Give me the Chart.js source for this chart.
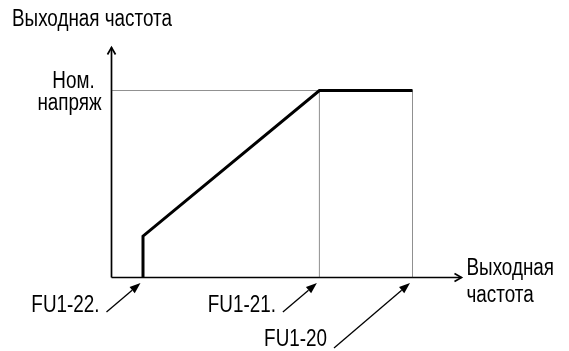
<!DOCTYPE html>
<html>
<head>
<meta charset="utf-8">
<script src="https://cdn.jsdelivr.net/npm/chart.js@4"></script>
<style>
  body { margin: 0; background: #fff; }
  canvas { display: block; }
</style>
</head>
<body>
<canvas id="vf-chart" width="569" height="351"></canvas>
<script>
// V/F pattern, both axes in abstract units 0..100
const freqPoints = [9, 9, 59.4, 86];     // start, start, base, max
const voltPoints = [0, 18, 81.3, 81.3];  // 0, boost, rated, rated
const markFreqs = [9, 59.4, 86];
const markLabels = ['FU1-22.', 'FU1-21.', 'FU1-20'];
const ratedVolt = 81.3;
const ratedLabel = ['Ном.', 'напряж'];
const yTitle = 'Выходная частота';
const xTitle = ['Выходная', 'частота'];

// no narrow font installed, so squeeze a regular one
const FONT = '23px "Liberation Sans", Arial, sans-serif';
const SQUEEZE = 0.82;

function text(c, s, x, y, align) {
    c.save();
    c.translate(x, y);
    c.scale(SQUEEZE, 1);
    c.textAlign = align;
    c.fillText(s, 0, 0);
    c.restore();
}

function arrow(c, x1, y1, x2, y2, filled) {
    const a = Math.atan2(y2 - y1, x2 - x1);
    const len = filled ? 11 : 7, w = 4;
    const bx = x2 - len * Math.cos(a), by = y2 - len * Math.sin(a);
    const px = -Math.sin(a) * w, py = Math.cos(a) * w;
    c.beginPath();
    c.moveTo(x1, y1);
    c.lineTo(filled ? bx : x2, filled ? by : y2);
    c.stroke();
    c.beginPath();
    c.moveTo(bx + px, by + py);
    c.lineTo(x2, y2);
    c.lineTo(bx - px, by - py);
    if (filled) { c.closePath(); c.fill(); } else { c.stroke(); }
}

const axesPlugin = {
    id: 'vfAxes',
    beforeDatasetsDraw(chart) {
        const c = chart.ctx, xs = chart.scales.x, ys = chart.scales.y;
        const x0 = xs.getPixelForValue(0), y0 = ys.getPixelForValue(0);
        c.save();
        c.strokeStyle = '#000';
        c.lineWidth = 1.7;
        arrow(c, x0, y0, xs.getPixelForValue(100), y0, false);
        arrow(c, x0, y0, x0, ys.getPixelForValue(100), false);
        c.restore();
    },
    afterDraw(chart) {
        const c = chart.ctx, xs = chart.scales.x, ys = chart.scales.y;
        const x0 = xs.getPixelForValue(0), y0 = ys.getPixelForValue(0);
        const xEnd = xs.getPixelForValue(100), yTop = ys.getPixelForValue(100);
        c.save();
        c.fillStyle = '#000';
        c.strokeStyle = '#000';
        c.lineWidth = 1.3;
        c.font = FONT;

        // axis titles
        text(c, yTitle, 12, yTop - 21.5, 'left');
        text(c, xTitle[0], xEnd + 5, y0 - 3, 'left');
        text(c, xTitle[1], xEnd + 5, y0 + 24.5, 'left');

        // rated voltage label
        const yr = ys.getPixelForValue(ratedVolt);
        text(c, ratedLabel[0], x0 - 38, yr - 2.5, 'center');
        text(c, ratedLabel[1], x0 - 42, yr + 19.5, 'center');

        // parameter marks under the x axis, last one on a lower row
        markFreqs.forEach((f, i) => {
            const tx = xs.getPixelForValue(f) - 2.5, ty = y0 + 5.5;
            const low = i === markFreqs.length - 1;
            const sx = tx - (low ? 76 : 34), sy = y0 + (low ? 70.5 : 34.5);
            arrow(c, sx, sy, tx, ty, true);
            text(c, markLabels[i], sx - 7, low ? y0 + 68.5 : sy, 'right');
        });
        c.restore();
    }
};

const dotted = {
    borderColor: '#222', borderWidth: 1, borderDash: [1, 1],
    pointRadius: 0, showLine: true, order: 1
};

const ctx = document.getElementById('vf-chart').getContext('2d');
const chart = new Chart(ctx, {
    type: 'scatter',
    data: {
        datasets: [
            {
                data: freqPoints.map((f, i) => ({x: f, y: voltPoints[i]})),
                borderColor: '#000', borderWidth: 3, pointRadius: 0,
                showLine: true, order: 0, clip: false
            },
            {...dotted, data: [{x: 0, y: ratedVolt}, {x: markFreqs[1], y: ratedVolt}]},
            {...dotted, data: [{x: markFreqs[1], y: 0}, {x: markFreqs[1], y: ratedVolt}]},
            {...dotted, data: [{x: markFreqs[2], y: 0}, {x: markFreqs[2], y: ratedVolt}]}
        ]
    },
    options: {
        responsive: false,
        animation: false,
        layout: {padding: {left: 111.5, right: 107.5, top: 47.5, bottom: 73.5}},
        scales: {
            x: {type: 'linear', min: 0, max: 100, display: false},
            y: {type: 'linear', min: 0, max: 100, display: false}
        },
        plugins: {
            legend: {display: false},
            tooltip: {enabled: false}
        }
    },
    plugins: [axesPlugin]
});
</script>
</body>
</html>
